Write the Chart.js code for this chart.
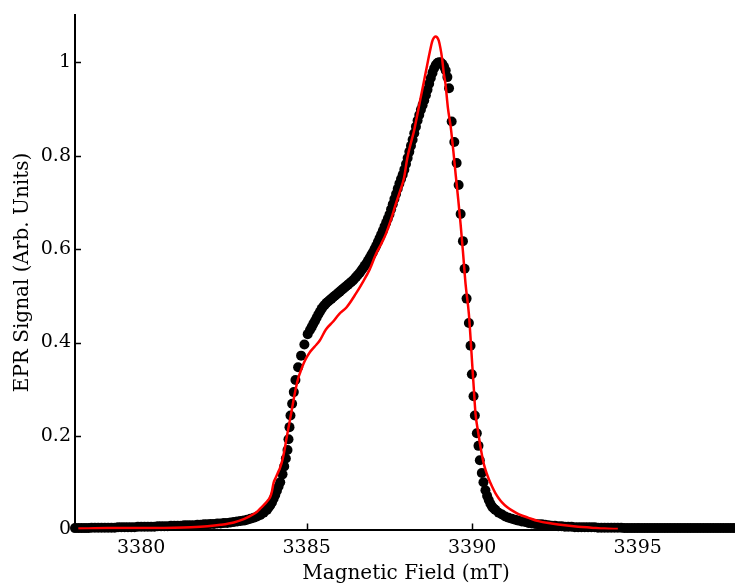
<!DOCTYPE html>
<html>
<head>
<meta charset="utf-8">
<script src="https://cdn.jsdelivr.net/npm/chart.js@4.4.0/dist/chart.umd.min.js"></script>
<style>
    html, body { margin: 0; padding: 0; background: #fff; overflow: hidden; }
</style>
</head>
<body>
<canvas id="grafico_epr" width="742" height="586"></canvas>
<script>
// espectro medido (pontos pretos): campo em mT e sinal normalizado
var campoMedido = [
    3378.0, 3378.1, 3378.2, 3378.3, 3378.4, 3378.5, 3378.6, 3378.7, 3378.8, 3378.9,
    3379.0, 3379.1, 3379.2, 3379.3, 3379.4, 3379.5, 3379.6, 3379.7, 3379.8, 3379.9,
    3380.0, 3380.1, 3380.2, 3380.3, 3380.4, 3380.5, 3380.6, 3380.7, 3380.8, 3380.9,
    3381.0, 3381.1, 3381.2, 3381.3, 3381.4, 3381.5, 3381.6, 3381.7, 3381.8, 3381.9,
    3382.0, 3382.1, 3382.2, 3382.3, 3382.4, 3382.5, 3382.6, 3382.7, 3382.8, 3382.9,
    3383.0, 3383.1, 3383.2, 3383.3, 3383.4, 3383.5, 3383.6, 3383.7, 3383.8, 3383.85,
    3383.9, 3383.95, 3384.0, 3384.05, 3384.1, 3384.15, 3384.2, 3384.27, 3384.32, 3384.37,
    3384.42, 3384.45, 3384.48, 3384.51, 3384.56, 3384.61, 3384.66, 3384.74, 3384.83, 3384.93,
    3385.03, 3385.1, 3385.15, 3385.2, 3385.25, 3385.3, 3385.35, 3385.4, 3385.45, 3385.5,
    3385.55, 3385.6, 3385.65, 3385.7, 3385.75, 3385.8, 3385.85, 3385.9, 3385.95, 3386.0,
    3386.05, 3386.1, 3386.15, 3386.2, 3386.25, 3386.3, 3386.35, 3386.4, 3386.45, 3386.5,
    3386.55, 3386.6, 3386.65, 3386.7, 3386.75, 3386.8, 3386.85, 3386.9, 3386.95, 3387.0,
    3387.05, 3387.1, 3387.15, 3387.2, 3387.25, 3387.3, 3387.35, 3387.4, 3387.45, 3387.5,
    3387.55, 3387.6, 3387.65, 3387.7, 3387.75, 3387.8, 3387.85, 3387.9, 3387.95, 3388.0,
    3388.05, 3388.1, 3388.15, 3388.2, 3388.25, 3388.3, 3388.35, 3388.4, 3388.45, 3388.5,
    3388.55, 3388.6, 3388.65, 3388.7, 3388.75, 3388.8, 3388.85, 3388.9, 3388.95, 3389.0,
    3389.05, 3389.1, 3389.15, 3389.2, 3389.25, 3389.3, 3389.38, 3389.46, 3389.53, 3389.59,
    3389.65, 3389.72, 3389.77, 3389.83, 3389.9, 3389.95, 3389.99, 3390.04, 3390.08, 3390.14,
    3390.19, 3390.23, 3390.29, 3390.34, 3390.4, 3390.45, 3390.5, 3390.55, 3390.6, 3390.65,
    3390.7, 3390.8, 3390.9, 3391.0, 3391.1, 3391.2, 3391.3, 3391.4, 3391.5, 3391.6,
    3391.7, 3391.8, 3391.9, 3392.0, 3392.1, 3392.2, 3392.3, 3392.4, 3392.5, 3392.6,
    3392.7, 3392.8, 3392.9, 3393.0, 3393.1, 3393.2, 3393.3, 3393.4, 3393.5, 3393.6,
    3393.7, 3393.8, 3393.9, 3394.0, 3394.1, 3394.2, 3394.3, 3394.4, 3394.5, 3394.6,
    3394.7, 3394.8, 3394.9, 3395.0, 3395.1, 3395.2, 3395.3, 3395.4, 3395.5, 3395.6,
    3395.7, 3395.8, 3395.9, 3396.0, 3396.1, 3396.2, 3396.3, 3396.4, 3396.5, 3396.6,
    3396.7, 3396.8, 3396.9, 3397.0, 3397.1, 3397.2, 3397.3, 3397.4, 3397.5, 3397.6,
    3397.7, 3397.8, 3397.9, 3398.0
];
var sinalMedido = [
    0.003, 0.003, 0.003, 0.003, 0.003, 0.004, 0.004, 0.004, 0.004, 0.004,
    0.004, 0.004, 0.004, 0.005, 0.005, 0.005, 0.005, 0.005, 0.005, 0.006,
    0.006, 0.006, 0.006, 0.006, 0.006, 0.007, 0.007, 0.007, 0.007, 0.008,
    0.008, 0.008, 0.008, 0.009, 0.009, 0.009, 0.009, 0.010, 0.010, 0.011,
    0.011, 0.012, 0.012, 0.013, 0.013, 0.014, 0.014, 0.015, 0.016, 0.017,
    0.018, 0.019, 0.021, 0.023, 0.025, 0.028, 0.031, 0.036, 0.042, 0.047,
    0.052, 0.058, 0.066, 0.074, 0.083, 0.092, 0.101, 0.118, 0.135, 0.152,
    0.170, 0.193, 0.219, 0.244, 0.269, 0.294, 0.320, 0.347, 0.372, 0.396,
    0.418, 0.427, 0.433, 0.440, 0.446, 0.453, 0.460, 0.466, 0.472, 0.477,
    0.481, 0.485, 0.488, 0.491, 0.494, 0.497, 0.500, 0.503, 0.506, 0.509,
    0.512, 0.515, 0.518, 0.521, 0.524, 0.527, 0.530, 0.533, 0.537, 0.541,
    0.545, 0.549, 0.554, 0.559, 0.564, 0.569, 0.575, 0.581, 0.587, 0.593,
    0.600, 0.607, 0.615, 0.623, 0.631, 0.639, 0.648, 0.656, 0.665, 0.674,
    0.685, 0.696, 0.707, 0.718, 0.729, 0.740, 0.750, 0.759, 0.770, 0.782,
    0.795, 0.808, 0.821, 0.834, 0.848, 0.862, 0.875, 0.887, 0.898, 0.908,
    0.918, 0.929, 0.941, 0.954, 0.966, 0.977, 0.987, 0.994, 0.998, 1.000,
    0.999, 0.996, 0.990, 0.982, 0.968, 0.944, 0.873, 0.829, 0.784, 0.737,
    0.675, 0.617, 0.558, 0.494, 0.442, 0.393, 0.332, 0.285, 0.244, 0.206,
    0.179, 0.148, 0.121, 0.101, 0.084, 0.072, 0.063, 0.055, 0.049, 0.045,
    0.042, 0.036, 0.032, 0.028, 0.025, 0.023, 0.021, 0.019, 0.017, 0.016,
    0.014, 0.013, 0.012, 0.011, 0.011, 0.010, 0.009, 0.008, 0.008, 0.007,
    0.007, 0.006, 0.006, 0.006, 0.005, 0.005, 0.005, 0.005, 0.005, 0.005,
    0.005, 0.004, 0.004, 0.004, 0.004, 0.004, 0.004, 0.004, 0.004, 0.003,
    0.003, 0.003, 0.003, 0.003, 0.003, 0.003, 0.003, 0.003, 0.003, 0.003,
    0.003, 0.003, 0.003, 0.003, 0.003, 0.003, 0.003, 0.003, 0.003, 0.003,
    0.003, 0.003, 0.003, 0.003, 0.003, 0.003, 0.003, 0.003, 0.003, 0.003,
    0.003, 0.003, 0.003, 0.003
];

// espectro simulado (linha vermelha)
var campoSimulado = [
    3378.1, 3379.0, 3380.0, 3381.0, 3381.5, 3382.0, 3382.4, 3382.8, 3383.1, 3383.3,
    3383.5, 3383.6, 3383.7, 3383.8, 3383.9, 3383.95, 3384.0, 3384.06, 3384.12, 3384.2,
    3384.27, 3384.33, 3384.38, 3384.45, 3384.53, 3384.6, 3384.68, 3384.75, 3384.83, 3384.9,
    3384.98, 3385.1, 3385.25, 3385.4, 3385.58, 3385.8, 3385.98, 3386.2, 3386.48, 3386.7,
    3386.9, 3387.09, 3387.25, 3387.39, 3387.55, 3387.69, 3387.82, 3387.94, 3388.04, 3388.14,
    3388.24, 3388.34, 3388.44, 3388.54, 3388.64, 3388.72, 3388.79, 3388.84, 3388.89, 3388.94,
    3388.99, 3389.04, 3389.09, 3389.14, 3389.19, 3389.27, 3389.35, 3389.43, 3389.5, 3389.58,
    3389.65, 3389.72, 3389.8, 3389.9, 3389.95, 3390.0, 3390.05, 3390.1, 3390.18, 3390.25,
    3390.32, 3390.4, 3390.5, 3390.6, 3390.7, 3390.8, 3390.9, 3391.05, 3391.2, 3391.4,
    3391.7, 3392.0, 3392.4, 3392.8, 3393.2, 3393.6, 3394.0, 3394.4
];
var sinalSimulado = [
    0.002, 0.003, 0.003, 0.004, 0.005, 0.007, 0.010, 0.015, 0.022, 0.029,
    0.038, 0.045, 0.052, 0.060, 0.070, 0.082, 0.100, 0.110, 0.120, 0.133,
    0.150, 0.170, 0.191, 0.218, 0.248, 0.276, 0.305, 0.325, 0.341, 0.354,
    0.366, 0.380, 0.392, 0.405, 0.428, 0.445, 0.461, 0.475, 0.504, 0.530,
    0.556, 0.589, 0.611, 0.632, 0.664, 0.696, 0.724, 0.752, 0.795, 0.825,
    0.852, 0.887, 0.923, 0.958, 0.994, 1.022, 1.044, 1.052, 1.055, 1.053,
    1.046, 1.030, 1.008, 0.977, 0.955, 0.900, 0.862, 0.810, 0.760, 0.705,
    0.653, 0.595, 0.525, 0.461, 0.410, 0.354, 0.300, 0.248, 0.208, 0.177,
    0.150, 0.128, 0.108, 0.092, 0.078, 0.067, 0.058, 0.048, 0.041, 0.033,
    0.025, 0.018, 0.013, 0.009, 0.006, 0.004, 0.002, 0.001
];

var ticksCampo = [3380, 3385, 3390, 3395];
var ticksSinal = [0, 0.2, 0.4, 0.6, 0.8, 1];

var fonteTicks = { family: 'DejaVu Serif', size: 19 };
var fonteTitulo = { family: 'DejaVu Serif', size: 20 };

function juntar(xs, ys) {
    return xs.map(function (x, i) { return { x: x, y: ys[i] }; });
}

// marcas de escala voltadas para dentro da area do grafico
var ticksDentro = {
    id: 'ticksDentro',
    beforeDatasetsDraw: function (chart) {
        var ctx = chart.ctx;
        var sx = chart.scales.x, sy = chart.scales.y;
        ctx.save();
        ctx.strokeStyle = '#000';
        ctx.lineWidth = 1.5;
        ctx.beginPath();
        ticksCampo.forEach(function (v) {
            var px = Math.round(sx.getPixelForValue(v)) + 0.5;
            ctx.moveTo(px, sy.bottom);
            ctx.lineTo(px, sy.bottom - 6);
        });
        ticksSinal.forEach(function (v) {
            var py = Math.round(sy.getPixelForValue(v)) + 0.5;
            ctx.moveTo(sx.left, py);
            ctx.lineTo(sx.left + 6, py);
        });
        ctx.stroke();
        ctx.restore();
    }
};

var graficoEPR = new Chart(document.getElementById('grafico_epr').getContext('2d'), {
    type: 'scatter',
    data: {
        datasets: [{
            type: 'line',
            label: 'Simulado',
            data: juntar(campoSimulado, sinalSimulado),
            borderColor: '#ff0000',
            borderWidth: 2.5,
            pointRadius: 0,
            fill: false,
            cubicInterpolationMode: 'monotone',
            order: 0
        }, {
            label: 'Medido',
            data: juntar(campoMedido, sinalMedido),
            showLine: false,
            pointRadius: 5,
            pointBorderWidth: 0,
            pointBackgroundColor: '#000',
            pointBorderColor: '#000',
            clip: false,
            order: 1
        }]
    },
    options: {
        responsive: false,
        animation: false,
        layout: { padding: { top: 14, right: 3, left: 0, bottom: 0 } },
        plugins: {
            legend: { display: false },
            tooltip: { enabled: false }
        },
        scales: {
            x: {
                type: 'linear',
                min: 3378,
                max: 3398,
                afterBuildTicks: function (scale) {
                    scale.ticks = ticksCampo.map(function (v) { return { value: v }; });
                },
                afterFit: function (scale) { scale.height = 56.5; },
                grid: { display: false, drawTicks: false },
                border: { display: true, color: '#000', width: 2 },
                ticks: {
                    color: '#000',
                    font: fonteTicks,
                    padding: 7,
                    maxRotation: 0,
                    callback: function (v) { return String(v); }
                },
                title: {
                    display: true,
                    text: 'Magnetic Field (mT)',
                    color: '#000',
                    font: fonteTitulo,
                    padding: { top: 0, bottom: 0 }
                }
            },
            y: {
                min: 0,
                max: 1.1,
                afterBuildTicks: function (scale) {
                    scale.ticks = ticksSinal.map(function (v) { return { value: v }; });
                },
                afterFit: function (scale) { scale.width = 75; },
                grid: { display: false, drawTicks: false },
                border: { display: true, color: '#000', width: 2 },
                ticks: {
                    color: '#000',
                    font: fonteTicks,
                    padding: 4,
                    callback: function (v) { return String(v); }
                },
                title: {
                    display: true,
                    text: 'EPR Signal (Arb. Units)',
                    color: '#000',
                    font: fonteTitulo,
                    padding: { top: 11, bottom: 0 }
                }
            }
        }
    },
    plugins: [ticksDentro]
});
</script>
</body>
</html>
